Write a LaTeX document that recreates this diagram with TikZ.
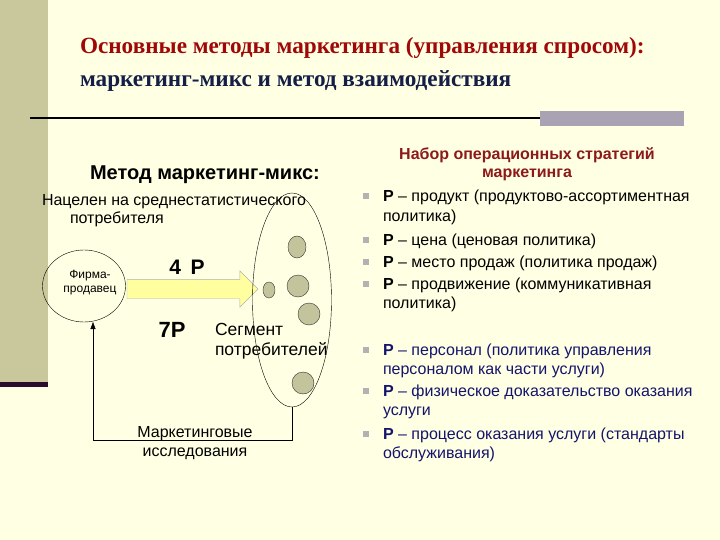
\documentclass[tikz,border=0pt]{standalone}
\usepackage{fontspec}
\setmainfont{Liberation Sans}
\newfontfamily\titlefont{Liberation Serif}
\usetikzlibrary{shapes.geometric,shapes.arrows,arrows.meta}

\definecolor{bgcream}{HTML}{FFFFE3}
\definecolor{barolive}{HTML}{C8C89C}
\definecolor{bardark}{HTML}{2C0C2C}
\definecolor{bargrey}{HTML}{A8A2B2}
\definecolor{titlered}{HTML}{A00808}
\definecolor{titleblue}{HTML}{141E46}
\definecolor{headred}{HTML}{8C1A1A}
\definecolor{dotfill}{HTML}{C4C49C}
\definecolor{arrowfill}{HTML}{FFFFA0}
\definecolor{itemblue}{HTML}{14146E}

\begin{document}
\begin{tikzpicture}[x=1pt,y=-1pt]
\tikzset{
  every node/.style={inner sep=0pt, outer sep=0pt},
  txt/.style={anchor=base west, align=left, font=\fontsize{16}{19.5}\selectfont},
  dot/.style={ellipse, draw=black!80, fill=dotfill},
  bullet/.style={fill=black!30, minimum size=6.5pt},
  bigp/.style={font=\bfseries\fontsize{21}{24}\selectfont},
}
% background and slide decoration
\fill[bgcream] (0,0) rectangle (720,540);
\fill[barolive] (0,0) rectangle (48,382);
\fill[bardark] (0,382) rectangle (48,387);
\draw[line width=2pt] (30,118) -- (540,118);
\fill[bargrey] (540,111) rectangle (684,126);

% title
\node[anchor=base west, text=titlered, font=\titlefont\bfseries\fontsize{23.2}{26}\selectfont] (title1) at (80,54) {Основные методы маркетинга (управления спросом):};
\node[anchor=base west, text=titleblue, font=\titlefont\bfseries\fontsize{23.2}{26}\selectfont] (title2) at (80,87) {маркетинг-микс и метод взаимодействия};

% left part
\node[anchor=base west, font=\bfseries\fontsize{20}{22}\selectfont] (mixhead) at (90,180) {Метод маркетинг-микс:};
\node[txt] (aim1) at (42,205.5) {Нацелен на среднестатистического};
\node[txt] (aim2) at (70,223.5) {потребителя};

\node[ellipse, draw, minimum width=83pt, minimum height=72pt] (firm) at (84,286) {};
\node[align=center, font=\fontsize{12}{14}\selectfont] (firmtext) at (90,283) {Фирма-\\продавец};
\node[single arrow, draw=black!30, fill=arrowfill, minimum height=131pt,
      single arrow head extend=8.5pt, anchor=west] (mixarrow) at (127,289) {\rule{0pt}{19pt}};
\node[bigp] (fourp) at (187,267) {4\hspace{0.45em}P};
\node[bigp, font=\bfseries\fontsize{22}{24}\selectfont] (sevenp) at (172,330) {7P};

\node[ellipse, draw, minimum width=79pt, minimum height=214pt] (segment) at (292,300) {};
\node[dot, minimum width=18pt, minimum height=22pt] (dot1) at (297,247) {};
\node[dot, minimum width=12pt, minimum height=16pt] (dot2) at (269,290) {};
\node[dot, minimum width=22pt, minimum height=22pt] (dot3) at (298,286) {};
\node[dot, minimum width=22pt, minimum height=22pt] (dot4) at (309,314) {};
\node[dot, minimum width=22pt, minimum height=22pt] (dot5) at (303,383) {};
\node[txt, font=\fontsize{17.5}{20}\selectfont] (seglabel) at (215,355.5) {Сегмент\\потребителей};

% feedback
\coordinate (fbcorner) at (93,440);
\draw[-{Triangle[length=7pt,width=5pt]}] (segment.south) |- (fbcorner) -- (fbcorner |- firm.south);
\node[align=center, font=\fontsize{16}{19}\selectfont] (research) at (195,443) {Маркетинговые\\исследования};

% right part
\node[anchor=base, align=center, text=headred, font=\bfseries\fontsize{16}{17.5}\selectfont] (sethead) at (527,177.5) {Набор операционных стратегий\\маркетинга};

\node[bullet] (b1) at (366,196) {};
\node[bullet] (b2) at (366,240) {};
\node[bullet] (b3) at (366,262) {};
\node[bullet] (b4) at (366,284) {};
\node[bullet] (b5) at (366,350) {};
\node[bullet] (b6) at (366,391) {};
\node[bullet] (b7) at (366,434) {};

\node[txt] (item1) at (383,221.5) {\textbf{P} – продукт (продуктово-ассортиментная\\политика)};
\node[txt] (item2) at (383,245.5) {\textbf{P} – цена (ценовая политика)};
\node[txt] (item3) at (383,267.5) {\textbf{P} – место продаж (политика продаж)};
\node[txt] (item4) at (383,308.5) {\textbf{P} – продвижение (коммуникативная\\политика)};
\node[txt, text=itemblue] (item5) at (383,374.5) {\textbf{P} – персонал (политика управления\\персоналом как части услуги)};
\node[txt, text=itemblue] (item6) at (383,415.5) {\textbf{P} – физическое доказательство оказания\\услуги};
\node[txt, text=itemblue] (item7) at (383,458.5) {\textbf{P} – процесс оказания услуги (стандарты\\обслуживания)};
\end{tikzpicture}
\end{document}
